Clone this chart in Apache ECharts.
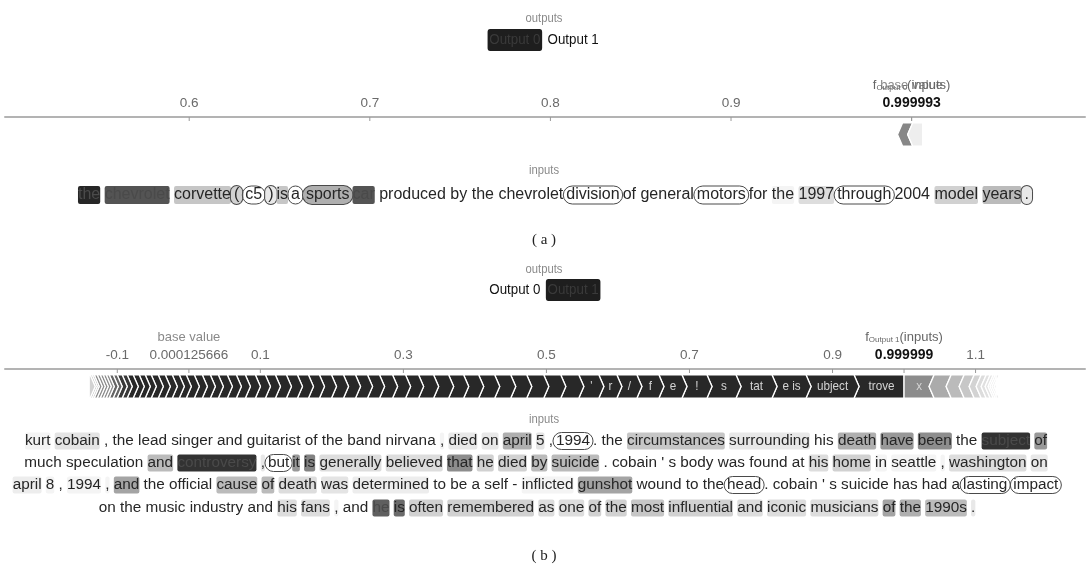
<!DOCTYPE html>
<html><head><meta charset="utf-8">
<script src="https://cdn.jsdelivr.net/npm/echarts@6/dist/echarts.min.js"></script>
<style>html,body{margin:0;padding:0;background:#fff}#c{width:1089px;height:569px}</style>
</head><body><div id="c"></div>
<script>
// ---------------- Panel (a) data ----------------
const outputsA = ['Output 0', 'Output 1'];
const selectedA = 0;
const ticksA = [0.6, 0.7, 0.8, 0.9];
const tickLabelsA = ['0.6', '0.7', '0.8', '0.9'];
const fA = 0.999993;
const fALabel = '0.999993';
const baseA = 0.99999;
const fAName = 'Output 0';
const forceAStart = 0.9922;
const forceAValues = [0.0056, 0.0083];
const tokensA = 'the chevrolet corvette ( c5 ) is a sports car produced by the chevrolet division of general motors for the 1997 through 2004 model years .'.split(' ');
const shadeA = [0.95,0.75,0.25,0.2,0,0.1,0.25,0,0.35,0.75, 0,0,0,0,0,0,0,0,0,0.05, 0.15,0,0,0.2,0.3,0.1];
const outlineA = [3,4,5,7,8,14,17,21,25];

// ---------------- Panel (b) data ----------------
const outputsB = ['Output 0', 'Output 1'];
const selectedB = 1;
const ticksB = [-0.1, 0.1, 0.3, 0.5, 0.7, 0.9, 1.1];
const tickLabelsB = ['-0.1', '0.1', '0.3', '0.5', '0.7', '0.9', '1.1'];
const baseB = 0.000125666;
const baseBLabel = '0.000125666';
const fB = 0.999999;
const fBLabel = '0.999999';
const fBName = 'Output 1';
// positive contributions, from f(x) leftwards
const posB = [0.0699,0.0671,0.0476,0.0503,0.0406,0.0350,0.0322,0.0308,0.0280,0.0252,0.0280,
  0.0252,0.0238,0.0238,0.0224,0.0224,0.0224,0.0210,0.0210,0.0210,0.0210,
  0.0182,0.0182,0.0182,0.0168,0.0168,0.0168,0.0168,0.0168,0.0154,0.0154,0.0154,0.0154,0.0140,0.0140,0.0140,
  0.0126,0.0126,0.0126,0.0112,0.0112,0.0112,0.0112,0.0098,0.0098,0.0098,0.0098,0.0098,0.0084,0.0084,0.0084,0.0084,0.0070,0.0070,
  0.0056,0.0056,0.0042,0.0042,0.0042,0.0042,0.0042,0.0028,0.0028,0.0014];
const posLabelsB = ['trove','ubject','e is','tat','s','!','e','f','/','r',"'"];
// negative contributions, from f(x) rightwards
const negB = [0.0350,0.0238,0.0182,0.0140,0.0098,0.0070,0.0056,0.0042,0.0028,0.0028,0.0028,0.0028];
const negLabelsB = ['x'];

const lineB1 = 'kurt cobain , the lead singer and guitarist of the band nirvana , died on april 5 , 1994 . the circumstances surrounding his death have been the subject of'.split(' ');
const shadeB1 = [0.05,0.12,0,0,0,0,0,0,0,0, 0,0,0.05,0.1,0.1,0.35,0.12,0,0,0, 0,0.25,0.1,0,0.35,0.45,0.5,0,0.9,0.45];
const outlineB1 = [18];
const lineB2 = "much speculation and controversy , but it is generally believed that he died by suicide . cobain ' s body was found at his home in seattle , washington on".split(' ');
const shadeB2 = [0,0,0.3,0.9,0.1,0,0.45,0.55,0.15,0.15, 0.5,0.2,0.2,0.3,0.3,0,0,0,0,0, 0,0,0,0.15,0.2,0.05,0.05,0.05,0.15,0.1];
const outlineB2 = [5];
const lineB3 = "april 8 , 1994 , and the official cause of death was determined to be a self - inflicted gunshot wound to the head . cobain ' s suicide has had a lasting impact".split(' ');
const shadeB3 = [0.08,0.05,0,0.05,0.05,0.4,0,0,0.3,0.3, 0.15,0.12,0.08,0,0,0,0,0,0.05,0.4, 0,0,0,0,0,0,0,0,0,0, 0,0,0,0];
const outlineB3 = [23,32,33];
const lineB4 = 'on the music industry and his fans , and he is often remembered as one of the most influential and iconic musicians of the 1990s .'.split(' ');
const shadeB4 = [0,0,0,0,0,0.15,0.15,0.05,0,0.7, 0.65,0.2,0.2,0.15,0.15,0.2,0.2,0.25,0.2,0.15, 0.15,0.15,0.4,0.35,0.3,0.1];
const outlineB4 = [];

// ---------------- helpers ----------------
const FONT = '"Liberation Sans", Arial, sans-serif';
const SERIF = '"Liberation Serif", "DejaVu Serif", serif';
const Y_TOP = 0.17, Y_BOT = 0.83, D = 5;

function gray(g) { g = Math.round(g); return 'rgb(' + g + ',' + g + ',' + g + ')'; }

function richTokens(tokens, shades, outlines, prefix, size) {
  const rich = {};
  const font = size + 'px ' + FONT;
  let s = '';
  tokens.forEach((t, i) => {
    const key = prefix + i;
    const sh = shades[i] || 0;
    const ol = outlines.indexOf(i) >= 0;
    const txtCol = sh > 0.65 ? '#4a4a4a' : '#262626';
    const st = { font: font, fill: txtCol, color: txtCol, lineHeight: Math.round(size + 6), padding: ol ? [1, 3] : [1, 0] };
    if (sh > 0) { st.backgroundColor = gray(255 - sh * 228); st.borderRadius = 2; }
    if (ol) { st.borderColor = '#4a4a4a'; st.borderWidth = 1; st.borderRadius = 9; }
    rich[key] = st;
    const prevOl = i > 0 && outlines.indexOf(i - 1) >= 0;
    if (i > 0 && !ol && !prevOl) s += ' ';
    s += '{' + key + '|' + t + '}';
  });
  return { text: s, rich, font };
}

function selector(outputs, sel, y) {
  const f = '15.5px ' + FONT;
  const rich = {
    s: { font: f, fill: '#3a3a3a', backgroundColor: '#1e1e1e', borderRadius: 3, padding: [3, 2] },
    n: { font: f, fill: '#111', padding: [3, 2] }
  };
  const text = outputs.map((o, i) => '{' + (i === sel ? 's' : 'n') + '|' + o + '}').join(' ');
  return { type: 'text', x: 544, y: y, scaleX: 0.86, style: { text, rich, align: 'center', verticalAlign: 'middle', font: f } };
}

function smallLabel(txt, y) {
  return { type: 'text', x: 544, y: y, scaleX: 0.9, style: { text: txt, align: 'center', verticalAlign: 'middle', fill: '#8a8a8a', font: '12.5px ' + FONT } };
}

function tokenLine(tokens, shades, outlines, prefix, x, y, size) {
  const r = richTokens(tokens, shades, outlines, prefix, size);
  return { type: 'text', x: x, y: y, style: { text: r.text, rich: r.rich, align: 'center', verticalAlign: 'middle', font: r.font, fill: '#262626' } };
}

function tickSeries(xi, values, labels) {
  return {
    type: 'custom', xAxisIndex: xi, yAxisIndex: xi, silent: true, clip: false,
    data: values.map(v => [v, 0]), encode: { x: 0, y: 1 },
    renderItem: (p, api) => {
      const pt = api.coord([api.value(0), 0]);
      return { type: 'group', children: [
        { type: 'line', shape: { x1: pt[0], y1: pt[1], x2: pt[0], y2: pt[1] + 4 }, style: { stroke: '#999', lineWidth: 1 } },
        { type: 'text', x: pt[0], y: pt[1] - 14, style: { text: labels[p.dataIndex], align: 'center', verticalAlign: 'middle', fill: '#6a6a6a', font: '13.5px ' + FONT } }
      ] };
    }
  };
}

// marker for f(x) and base value
function markSeries(xi, fVal, fLab, fName, baseVal, baseLab, showBaseNum) {
  return {
    type: 'custom', xAxisIndex: xi, yAxisIndex: xi, silent: true, clip: false,
    data: [[baseVal, 0], [fVal, 0]], encode: { x: 0, y: 1 },
    renderItem: (p, api) => {
      const pt = api.coord([api.value(0), 0]);
      const ch = [{ type: 'line', shape: { x1: pt[0], y1: pt[1], x2: pt[0], y2: pt[1] + 4 }, style: { stroke: '#999', lineWidth: 1 } }];
      if (p.dataIndex === 0) {
        ch.push({ type: 'text', x: pt[0], y: pt[1] - 32, style: { text: 'base value', align: 'center', verticalAlign: 'middle', fill: '#8a8a8a', font: '13px ' + FONT } });
        if (showBaseNum) ch.push({ type: 'text', x: pt[0], y: pt[1] - 14, style: { text: baseLab, align: 'center', verticalAlign: 'middle', fill: '#6a6a6a', font: '13.5px ' + FONT } });
      } else {
        ch.push({ type: 'text', x: pt[0], y: pt[1] - 14, style: { text: fLab, align: 'center', verticalAlign: 'middle', fill: '#111', font: 'bold 14px ' + FONT } });
        ch.push({ type: 'text', x: pt[0], y: pt[1] - 33, style: {
          text: '{f|f}{s|' + fName + '}{i|(inputs)}', align: 'center', verticalAlign: 'middle',
          rich: { f: { font: '13px ' + FONT, fill: '#666', lineHeight: 16, verticalAlign: 'bottom' },
                  s: { font: '8px ' + FONT, fill: '#666', lineHeight: 16, verticalAlign: 'bottom', padding: [8, 0, 0, 0] },
                  i: { font: '13px ' + FONT, fill: '#666', lineHeight: 16, verticalAlign: 'bottom' } } } });
      }
      return { type: 'group', children: ch };
    }
  };
}

// chain of chevron segments: dir = +1 (pointing right, stacked leftwards from anchor), -1 (pointing left, stacked rightwards)
function chainSeries(xi, anchor, values, dir, labels, colorFn, flatNear, flatFar) {
  const rows = [];
  let acc = anchor;
  values.forEach(v => {
    if (dir > 0) { rows.push([acc - v, acc]); acc -= v; }
    else { rows.push([acc, acc + v]); acc += v; }
  });
  const n = rows.length;
  return {
    type: 'custom', xAxisIndex: xi, yAxisIndex: xi, silent: true, clip: false,
    data: rows, encode: { x: [0, 1] },
    renderItem: (p, api) => {
      const i = p.dataIndex;
      const a = api.coord([api.value(0), Y_TOP]);
      const b = api.coord([api.value(1), Y_BOT]);
      const x0 = a[0], x1 = b[0], yt = a[1], yb = b[1], ym = (yt + yb) / 2;
      let pts;
      if (dir > 0) {
        const right = (i === 0 && flatNear) ? [[x1, yt], [x1, yb]] : [[x1, yt], [x1 + D, ym], [x1, yb]];
        const left = (i === n - 1 && flatFar) ? [[x0, yb]] : [[x0, yb], [x0 + D, ym]];
        pts = [[x0, yt]].concat(right, left);
      } else {
        const left = (i === 0 && flatNear) ? [[x0, yb], [x0, yt]] : [[x0 + D, yb], [x0, ym], [x0 + D, yt]];
        const right = (i === n - 1 && flatFar) ? [[x1, yt], [x1, yb]] : [[x1 + D, yt], [x1, ym], [x1 + D, yb]];
        pts = right.concat(left);
      }
      const ch = [{ type: 'polygon', shape: { points: pts }, style: { fill: colorFn(values[i], i), stroke: '#fff', lineWidth: 1.3 } }];
      if (labels && labels[i]) {
        ch.push({ type: 'text', x: (x0 + x1) / 2 + D / 2, y: ym, scaleX: 0.9, style: { text: labels[i], align: 'center', verticalAlign: 'middle', fill: '#d4d4d4', font: '13px ' + FONT } });
      }
      return { type: 'group', children: ch };
    }
  };
}

const posColor = (v) => { const t = Math.min(1, Math.pow(v / 0.0075, 1.3)); return gray(232 - (232 - 40) * t); };
const negColor = (v, i) => i === 0 ? gray(140) : gray(170 + 70 * (1 - Math.min(1, v / 0.024)));
const aColor = (v, i) => i === 0 ? gray(135) : gray(238);

const chart = echarts.init(document.getElementById('c'));
chart.setOption({
  animation: false,
  backgroundColor: '#fff',
  grid: [
    { left: 5, right: 4, top: 117, height: 35 },
    { left: 5, right: 4, top: 369, height: 35 }
  ],
  xAxis: [0, 1].map(i => ({
    gridIndex: i, type: 'value', position: 'top',
    min: i === 0 ? 0.498 : -0.257, max: i === 0 ? 1.096 : 1.253,
    axisLine: { show: true, onZero: false, lineStyle: { color: '#b3b3b3', width: 2 } },
    axisTick: { show: false }, axisLabel: { show: false }, splitLine: { show: false }
  })),
  yAxis: [0, 1].map(i => ({ gridIndex: i, type: 'value', min: 0, max: 1, inverse: true, show: false })),
  series: [
    tickSeries(0, ticksA, tickLabelsA),
    markSeries(0, fA, fALabel, fAName, baseA, '', false),
    chainSeries(0, forceAStart, forceAValues, -1, null, aColor, false, true),
    tickSeries(1, ticksB, tickLabelsB),
    markSeries(1, fB, fBLabel, fBName, baseB, baseBLabel, true),
    chainSeries(1, fB, posB, 1, posLabelsB, posColor, true, true),
    chainSeries(1, fB, negB, -1, negLabelsB, negColor, true, true)
  ],
  graphic: [
    smallLabel('outputs', 19),
    selector(outputsA, selectedA, 40),
    smallLabel('inputs', 171),
    tokenLine(tokensA, shadeA, outlineA, 'a', 555, 195, 16),
    { type: 'text', x: 544, y: 240, style: { text: '( a )', align: 'center', verticalAlign: 'middle', fill: '#222', font: '15px ' + SERIF } },
    smallLabel('outputs', 270),
    selector(outputsB, selectedB, 290),
    smallLabel('inputs', 420),
    tokenLine(lineB1, shadeB1, outlineB1, 'p', 536, 441, 15.3),
    tokenLine(lineB2, shadeB2, outlineB2, 'q', 536, 463, 15.3),
    tokenLine(lineB3, shadeB3, outlineB3, 'r', 537, 485, 15.3),
    tokenLine(lineB4, shadeB4, outlineB4, 's', 537, 508, 15.3),
    { type: 'text', x: 544, y: 556, style: { text: '( b )', align: 'center', verticalAlign: 'middle', fill: '#222', font: '15px ' + SERIF } }
  ]
});
</script>
</body></html>
